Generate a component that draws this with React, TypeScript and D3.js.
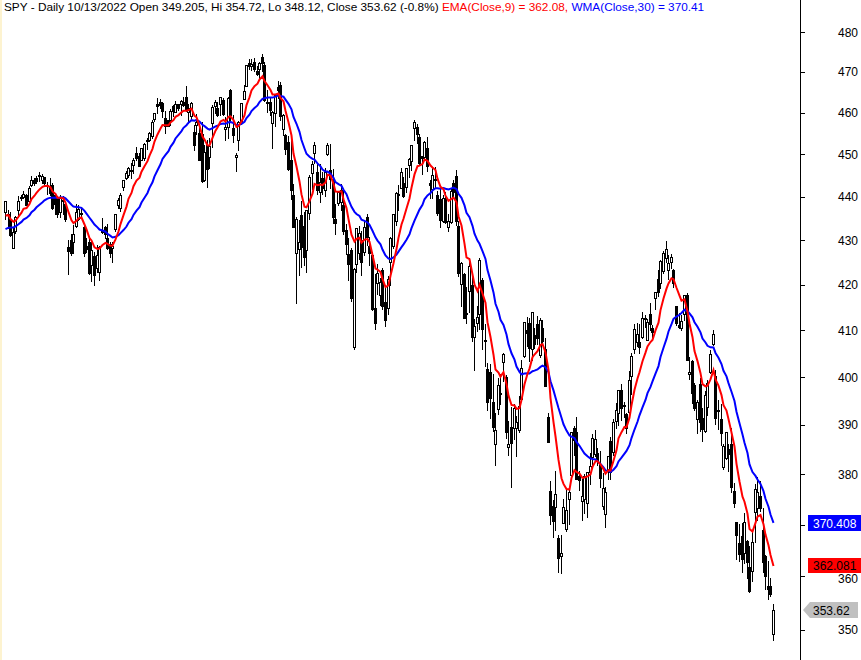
import React, { useEffect } from 'react';
import * as d3 from 'd3';

type Bar = [number, number, number, number]; // open, high, low, close

// closes before the visible window (used only to seed the indicators)
const warmupCloses = [425.8, 429.1, 427.7, 428.3, 425.0, 429.9, 431.7, 430.7, 430.9, 429.4, 426.2, 417.2, 423.2, 426.6, 427.5, 431.9, 433.0, 431.0, 430.8, 432.6, 430.5, 429.6, 433.1, 431.0, 433.7, 434.4, 434.1, 434.6, 435.7, 437.0, 437.8];

const aug2021: Bar[] = [
  [436.4, 439.0, 434.8, 438.9], [436.1, 436.9, 432.8, 436.0], [434.9, 436.5, 430.9, 431.2], [428.3, 433.1, 428.2, 431.8],
  [432.2, 435.6, 431.7, 435.3], [437.0, 440.1, 435.4, 439.1], [439.7, 440.4, 439.3, 440.0], [440.0, 441.3, 439.6, 440.7],
  [440.4, 440.7, 438.0, 438.1], [439.0, 442.5, 438.9, 442.1], [442.8, 444.8, 442.5, 444.0], [443.9, 444.3, 442.7, 443.3],
];
const sep2021: Bar[] = [
  [444.3, 444.9, 443.3, 443.6], [445.0, 445.8, 443.7, 444.9], [443.8, 445.4, 443.3, 444.8], [444.5, 444.6, 442.5, 443.2],
  [442.7, 443.5, 440.7, 442.7], [442.5, 444.4, 440.5, 440.8], [442.8, 443.3, 437.2, 437.3], [440.5, 440.8, 436.0, 438.4],
  [440.0, 440.2, 435.2, 436.1], [436.5, 440.3, 435.4, 439.7], [439.2, 440.2, 435.9, 439.0], [438.2, 438.7, 434.4, 434.8],
  [428.4, 430.0, 422.4, 427.5], [430.0, 431.3, 426.6, 427.1], [429.5, 433.4, 427.2, 431.3], [433.3, 438.2, 433.0, 436.5],
  [434.8, 438.0, 434.6, 437.2], [436.2, 437.4, 435.3, 436.0], [433.1, 433.4, 426.4, 427.2], [428.7, 430.5, 427.3, 427.9],
  [429.5, 430.2, 422.3, 422.7],
];
const oct2021: Bar[] = [
  [424.5, 429.5, 420.8, 427.7], [426.5, 427.4, 420.0, 422.2], [423.8, 429.0, 422.9, 426.6], [422.8, 428.6, 421.1, 428.4],
  [431.8, 435.1, 431.6, 432.1], [432.9, 433.3, 430.6, 431.3], [430.6, 433.7, 428.1, 428.2], [429.1, 429.6, 426.3, 427.1],
  [428.2, 429.5, 425.1, 428.7], [432.5, 436.0, 432.0, 435.9], [438.1, 439.6, 437.4, 439.2], [437.3, 440.8, 436.6, 440.5],
  [442.2, 443.9, 441.5, 443.9], [444.4, 445.9, 444.2, 445.6], [445.0, 447.0, 444.5, 446.8], [446.3, 447.8, 444.3, 446.3],
  [447.5, 449.1, 445.6, 448.7], [450.3, 451.6, 448.7, 449.1], [449.6, 450.3, 447.1, 447.1], [448.6, 451.5, 448.6, 451.4],
  [449.0, 452.7, 448.7, 452.4],
];
const nov2021: Bar[] = [
  [453.4, 453.8, 451.3, 453.1], [453.3, 455.3, 453.2, 455.0], [454.4, 458.2, 453.9, 457.7], [458.4, 460.0, 458.0, 459.9],
  [462.2, 463.6, 459.9, 461.5], [462.6, 463.2, 461.2, 461.9], [462.3, 462.5, 458.9, 460.4], [458.6, 460.4, 455.1, 456.7],
  [458.2, 458.3, 456.8, 456.8], [458.1, 460.8, 457.1, 460.3], [461.6, 461.8, 459.2, 460.4], [460.1, 462.9, 460.1, 462.2],
  [462.0, 462.2, 460.5, 461.1], [462.2, 463.0, 459.3, 462.7], [462.6, 463.9, 461.5, 461.9], [463.8, 466.4, 460.3, 460.6],
  [460.2, 462.1, 457.5, 461.2], [459.1, 462.5, 458.2, 462.4], [455.4, 456.9, 450.9, 452.1], [457.1, 459.6, 454.8, 457.6],
  [455.1, 457.1, 448.5, 448.7],
];
const dec2021: Bar[] = [
  [454.7, 457.7, 443.5, 443.7], [444.0, 452.2, 443.6, 450.5], [452.3, 453.4, 442.2, 446.6], [449.3, 453.9, 446.8, 451.9],
  [457.4, 461.9, 451.8, 461.3], [461.7, 463.0, 459.8, 462.5], [461.1, 462.6, 459.1, 459.4], [462.2, 463.8, 459.5, 463.7],
  [463.1, 463.5, 459.3, 459.6], [456.1, 458.8, 453.3, 456.4], [456.5, 463.8, 453.8, 463.5], [465.5, 465.8, 457.8, 459.5],
  [456.2, 459.4, 452.8, 454.6], [449.3, 450.2, 446.0, 449.8], [453.3, 457.9, 451.1, 457.7], [457.5, 462.4, 457.3, 462.3],
  [463.4, 466.8, 463.3, 465.2], [466.6, 471.8, 466.6, 471.8], [472.2, 473.3, 470.6, 471.4], [471.5, 473.1, 470.4, 472.0],
  [472.4, 473.5, 470.2, 470.7], [470.2, 471.4, 469.2, 469.5],
];
const jan2022: Bar[] = [
  [470.8, 472.4, 468.4, 472.2], [473.7, 474.5, 470.1, 472.1], [471.7, 472.5, 462.9, 463.0], [462.5, 465.4, 460.1, 462.6],
  [462.6, 463.8, 459.3, 460.7], [457.4, 460.4, 451.4, 460.2], [459.9, 464.5, 456.7, 464.4], [466.2, 467.8, 463.6, 465.6],
  [466.8, 467.4, 458.1, 459.2], [455.9, 459.7, 454.6, 459.4], [454.5, 454.7, 450.1, 451.2], [452.9, 454.3, 446.3, 446.6],
  [448.5, 453.5, 439.4, 441.6], [440.4, 442.9, 432.9, 432.9], [427.1, 435.3, 415.9, 434.8], [428.1, 434.7, 422.2, 429.5],
  [435.7, 438.9, 423.9, 428.4], [433.2, 436.5, 424.5, 426.3], [427.7, 436.9, 422.9, 436.9], [436.2, 445.1, 434.8, 444.7],
];
const feb2022: Bar[] = [
  [445.5, 448.4, 441.8, 447.7], [450.3, 452.9, 447.8, 452.1], [445.8, 447.8, 440.6, 441.5], [441.2, 447.6, 438.7, 443.5],
  [444.3, 445.8, 440.7, 442.1], [441.6, 446.7, 440.1, 445.8], [450.0, 452.6, 449.8, 452.3], [446.2, 452.4, 442.1, 444.2],
  [444.2, 446.4, 433.9, 435.4], [434.9, 438.4, 431.3, 434.0], [438.6, 441.2, 438.1, 441.0], [438.8, 442.9, 436.9, 441.5],
  [438.1, 441.4, 431.4, 432.0], [432.3, 433.6, 426.9, 429.2], [426.9, 430.5, 421.0, 424.6], [427.7, 428.3, 416.5, 417.1],
  [406.3, 423.8, 405.9, 423.4], [424.7, 432.8, 422.9, 432.7], [427.1, 433.2, 425.8, 431.6],
];
const mar2022: Bar[] = [
  [430.0, 432.1, 422.2, 425.0], [427.4, 434.7, 426.6, 432.9], [435.4, 436.0, 428.8, 430.7], [428.7, 430.8, 424.3, 427.2],
  [426.6, 427.3, 414.5, 414.6], [414.8, 422.3, 410.3, 411.5], [420.3, 424.6, 418.0, 422.5], [417.7, 421.5, 415.6, 420.6],
  [423.2, 423.8, 414.7, 415.2], [416.1, 419.7, 411.0, 412.2], [414.9, 421.9, 413.6, 421.3], [425.0, 430.7, 419.9, 430.6],
  [428.6, 436.0, 428.2, 436.0], [434.3, 441.1, 433.5, 440.8], [440.6, 442.7, 437.0, 440.7], [442.1, 446.8, 442.1, 445.8],
  [443.2, 444.7, 440.0, 440.1], [442.2, 446.7, 441.0, 446.7], [447.4, 449.2, 444.7, 448.9], [448.3, 452.1, 446.3, 452.1],
  [456.2, 458.2, 453.3, 457.7], [456.5, 457.3, 452.6, 454.9], [454.0, 454.9, 447.4, 447.8],
];
const apr2022: Bar[] = [
  [449.5, 449.6, 445.4, 449.1], [449.3, 453.1, 448.5, 453.0], [451.4, 454.0, 446.0, 447.2], [443.1, 443.8, 439.8, 442.8],
  [441.9, 446.9, 439.8, 445.0], [444.2, 446.9, 442.2, 443.8], [440.4, 441.3, 435.7, 436.2], [439.4, 442.0, 433.0, 434.6],
  [434.4, 440.4, 434.2, 439.6], [439.8, 441.0, 434.0, 434.1], [433.1, 436.1, 432.0, 434.3], [434.2, 442.1, 434.0, 441.3],
  [443.2, 443.8, 439.8, 441.0], [444.8, 446.2, 433.4, 434.4], [433.2, 434.4, 421.9, 422.5], [420.1, 425.1, 415.3, 424.9],
  [422.3, 422.5, 412.6, 412.6], [413.7, 419.4, 411.5, 413.8], [418.7, 426.0, 414.1, 424.2], [420.0, 422.3, 407.8, 408.5],
];
const may2022: Bar[] = [
  [408.6, 412.4, 401.6, 411.0], [411.5, 415.4, 409.9, 412.9], [413.6, 426.0, 410.2, 425.5], [421.0, 421.4, 406.0, 410.3],
  [407.6, 411.3, 402.3, 407.9], [401.7, 403.0, 393.2, 394.8], [401.1, 402.7, 391.5, 395.7], [394.7, 400.6, 388.7, 389.5],
  [386.1, 392.5, 381.9, 389.0], [393.4, 399.8, 392.3, 398.3], [396.6, 400.6, 394.3, 396.7], [403.1, 405.1, 399.2, 404.9],
  [400.1, 400.4, 387.3, 388.6], [385.4, 390.8, 383.9, 386.2], [389.5, 393.7, 377.4, 386.4], [389.3, 394.4, 387.1, 393.6],
  [389.3, 391.8, 383.7, 390.6], [389.0, 396.1, 388.6, 394.0], [395.3, 403.6, 395.1, 401.9], [404.5, 411.9, 404.3, 411.8],
  [410.1, 413.0, 406.6, 409.5],
];
const jun2022: Bar[] = [
  [411.7, 412.7, 403.5, 406.2], [406.0, 413.9, 403.6, 413.9], [408.9, 410.6, 406.1, 407.1], [411.3, 413.1, 407.1, 408.3],
  [404.7, 412.7, 404.2, 412.3], [410.5, 412.3, 406.9, 407.8], [405.9, 408.3, 398.1, 398.1], [391.6, 392.5, 386.5, 386.5],
  [376.7, 378.6, 370.2, 371.9], [373.7, 374.8, 367.5, 370.7], [373.4, 380.7, 369.0, 376.0], [367.4, 367.9, 360.8, 363.6],
  [364.0, 367.9, 360.7, 364.4], [370.4, 375.0, 370.3, 373.5], [369.1, 377.2, 368.7, 372.9], [375.1, 377.3, 370.2, 376.5],
  [379.8, 388.5, 379.8, 388.5], [389.4, 389.8, 383.9, 387.0], [388.6, 391.6, 379.0, 379.1], [379.7, 380.7, 376.9, 378.8],
  [374.7, 379.1, 371.0, 375.7],
];
const jul2022: Bar[] = [
  [375.0, 380.1, 372.3, 379.7], [374.3, 380.4, 371.4, 380.4], [380.5, 384.3, 378.0, 381.7], [383.5, 388.2, 381.7, 387.4],
  [384.0, 389.0, 383.7, 387.1], [384.3, 385.3, 381.9, 382.7], [382.1, 384.6, 377.4, 379.3], [373.6, 380.3, 373.1, 377.3],
  [372.1, 377.5, 369.5, 376.4], [381.0, 383.7, 379.0, 383.6], [386.8, 387.5, 379.1, 380.4], [384.5, 391.3, 383.8, 390.7],
  [390.9, 394.6, 389.4, 393.2], [392.5, 397.2, 390.0, 397.2], [397.3, 398.5, 391.1, 393.5], [394.1, 394.8, 391.6, 393.9],
  [392.2, 392.4, 388.3, 389.3], [392.7, 401.2, 392.4, 399.4], [400.2, 405.1, 396.5, 404.4], [405.9, 411.3, 405.1, 410.3],
];
const aug2022: Bar[] = [
  [407.5, 411.7, 406.7, 409.1], [407.4, 411.3, 405.1, 406.4], [408.6, 413.9, 408.3, 412.7], [412.7, 413.4, 410.7, 412.5],
  [408.0, 412.4, 407.9, 411.8], [413.5, 415.9, 410.1, 411.3], [410.5, 411.1, 408.5, 409.7], [417.1, 418.4, 414.7, 418.3],
  [421.3, 423.2, 417.5, 418.3], [420.3, 425.5, 419.3, 425.4], [423.0, 427.6, 422.6, 427.1], [426.0, 429.9, 425.1, 427.9],
  [423.3, 426.6, 421.2, 424.9], [425.1, 426.8, 423.8, 426.1], [423.2, 423.5, 419.5, 420.4], [415.3, 415.4, 411.1, 411.7],
  [411.2, 413.7, 410.4, 410.7], [410.4, 413.4, 410.1, 412.0], [413.5, 417.8, 412.2, 417.8], [417.7, 418.2, 403.6, 403.6],
  [400.6, 404.2, 399.6, 401.0], [403.4, 403.7, 394.6, 396.6], [398.3, 398.7, 393.2, 393.6],
];
const sep2022: Bar[] = [
  [391.3, 395.2, 388.4, 394.8], [398.6, 399.9, 388.7, 390.6], [391.5, 393.6, 386.8, 389.2], [388.8, 397.0, 388.6, 396.2],
  [393.7, 399.4, 392.0, 398.7], [401.1, 405.8, 400.8, 404.9], [407.1, 410.0, 406.8, 409.3], [400.2, 401.4, 390.3, 391.5],
  [392.9, 395.1, 389.1, 393.0], [391.3, 394.3, 385.9, 388.3], [381.4, 386.2, 381.1, 385.6], [383.2, 388.3, 383.0, 388.6],
  [385.1, 386.1, 380.6, 384.1], [386.1, 389.3, 376.4, 377.4], [376.6, 378.3, 373.4, 374.2], [370.6, 370.6, 363.3, 368.0],
  [366.4, 370.2, 363.0, 364.3], [367.7, 370.4, 360.9, 363.4], [364.4, 372.3, 362.6, 370.5], [366.8, 367.1, 359.7, 362.8],
  [361.8, 365.9, 357.0, 357.2],
];
const oct2022: Bar[] = [
  [361.1, 368.6, 359.2, 366.6], [372.4, 378.0, 366.6, 377.1], [373.2, 379.5, 371.0, 376.4], [375.6, 378.7, 372.7, 373.2],
  [369.0, 373.3, 360.9, 362.8], [364.0, 364.2, 357.7, 360.0], [358.2, 363.0, 355.7, 357.7], [358.2, 359.8, 356.3, 356.6],
  [349.205, 354.72, 348.12, 353.62],
];

const months: Bar[][] = [aug2021, sep2021, oct2021, nov2021, dec2021, jan2022, feb2022, mar2022, apr2022, may2022, jun2022, jul2022, aug2022, sep2022, oct2022];

// tick labels visible on the price axis (370 is hidden under the WMA value label)
const yTicks = [350, 360, 370, 380, 390, 400, 410, 420, 430, 440, 450, 460, 470, 480];
const hiddenTickLabels = [370];

const headerMain = 'SPY - Daily 10/13/2022 Open 349.205, Hi 354.72, Lo 348.12, Close 353.62 (-0.8%) ';
const headerEma = 'EMA(Close,9) = 362.08, ';
const headerWma = 'WMA(Close,30) = 370.41';
const wmaLast = 370.408;
const emaLast = 362.081;
const closeLast = 353.62;

function emaCalc(values: number[], n: number): number[] {
  const k = 2 / (n + 1);
  const out: number[] = [];
  values.forEach((v, i) => out.push(i === 0 ? v : out[i - 1] + k * (v - out[i - 1])));
  return out;
}
function wmaCalc(values: number[], n: number): number[] {
  return values.map((_, i) => {
    const m = Math.min(n, i + 1);
    let s = 0, w = 0;
    for (let j = 0; j < m; j++) {
      const wt = m - j;
      s += values[i - j] * wt;
      w += wt;
    }
    return s / w;
  });
}

const FONT = '"Liberation Sans", Arial, sans-serif';

export default function App() {
  useEffect(() => {
    document.body.style.margin = '0';
  }, []);
  const bars: Bar[] = months.flat();
  const n = bars.length;
  const x = d3.scaleLinear().domain([0, n - 1]).range([5, 773]);
  const y = d3.scaleLog().domain([350, 480]).range([629.8, 32]);

  const allCloses = [...warmupCloses, ...bars.map(b => b[3])];
  const emaVals = emaCalc(allCloses, 9).slice(warmupCloses.length);
  const wmaVals = wmaCalc(allCloses, 30).slice(warmupCloses.length);

  const line = d3.line<number>().x((_, i) => Math.round(x(i)) + 0.5).y(v => y(v));

  const axisX = 800;
  const wmaY = Math.round(y(wmaLast));
  const emaY = Math.round(y(emaLast));
  const closeY = Math.round(y(closeLast));

  return (
    <svg width={861} height={660} style={{ position: 'fixed', left: 0, top: 0, display: 'block', background: '#fff' }}>
      <rect x={0} y={0} width={861} height={660} fill="#ffffff" />
      <rect x={0} y={0} width={2} height={660} fill="#fdf3d0" />
      <g>
        {bars.map((b, i) => {
          const [o, h, l, c] = b;
          const cx = Math.round(x(i));
          const up = c >= o;
          const yTop = Math.round(y(Math.max(o, c)));
          const yBot = Math.round(y(Math.min(o, c)));
          return (
            <g key={i}>
              <line x1={cx + 0.5} x2={cx + 0.5} y1={Math.round(y(h))} y2={Math.round(y(l)) + 1} stroke="#000" strokeWidth={1} shapeRendering="crispEdges" />
              {up ? (
                <rect x={cx - 0.5} y={yTop + 0.5} width={2} height={Math.max(yBot - yTop, 1)} fill="#fff" stroke="#000" strokeWidth={1} shapeRendering="crispEdges" />
              ) : (
                <rect x={cx - 1} y={yTop} width={3} height={Math.max(yBot - yTop, 1) + 1} fill="#000" shapeRendering="crispEdges" />
              )}
            </g>
          );
        })}
      </g>
      <path d={line(wmaVals) || ''} fill="none" stroke="#0000ff" strokeWidth={2} />
      <path d={line(emaVals) || ''} fill="none" stroke="#ff0000" strokeWidth={2} />

      {/* right axis */}
      <line x1={axisX + 0.5} x2={axisX + 0.5} y1={0} y2={660} stroke="#000" strokeWidth={1} shapeRendering="crispEdges" />
      {yTicks.map(t => (
        <g key={t}>
          <line x1={axisX} x2={axisX + 5} y1={Math.round(y(t)) + 0.5} y2={Math.round(y(t)) + 0.5} stroke="#000" shapeRendering="crispEdges" />
          {hiddenTickLabels.includes(t) ? null : (
            <text x={838} y={y(t) + (t === 360 ? 7 : 4.5)} fontFamily={FONT} fontSize={12} fill="#000">{t}</text>
          )}
        </g>
      ))}

      {/* value labels */}
      <rect x={808} y={wmaY - 8} width={53} height={16} fill="#0000ff" />
      <text x={813} y={wmaY + 4.5} fontFamily={FONT} fontSize={12} fill="#fff">{wmaLast.toFixed(3)}</text>
      <rect x={808} y={emaY - 8} width={53} height={15} fill="#ff0000" />
      <text x={813} y={emaY + 3.5} fontFamily={FONT} fontSize={12} fill="#000">{emaLast.toFixed(3)}</text>
      <polygon points={`803,${closeY} 810,${closeY - 8} 858,${closeY - 8} 858,${closeY + 8} 810,${closeY + 8}`} fill="#c0c0c0" />
      <text x={813} y={closeY + 4.5} fontFamily={FONT} fontSize={12} fill="#000">{closeLast.toFixed(2)}</text>

      {/* header */}
      <text x={4} y={11} fontFamily={FONT} fontSize={11.8} fill="#000">
        <tspan>{headerMain}</tspan>
        <tspan fill="#ff0000">{headerEma}</tspan>
        <tspan fill="#0000ff">{headerWma}</tspan>
      </text>
    </svg>
  );
}
